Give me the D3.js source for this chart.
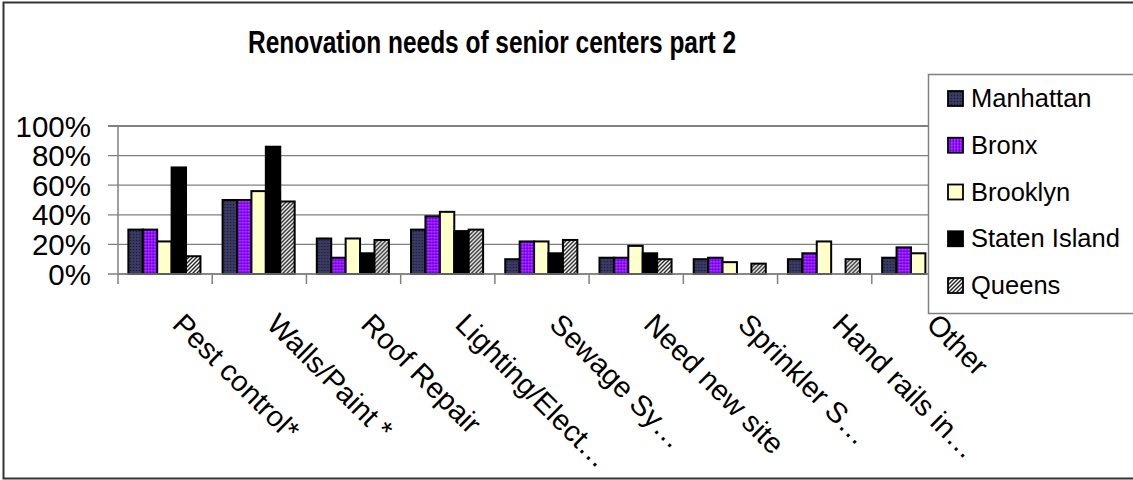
<!DOCTYPE html>
<html>
<head>
<meta charset="utf-8">
<script src="https://cdn.jsdelivr.net/npm/d3@7"></script>
<style>
  html, body { margin: 0; padding: 0; background: #fff; }
  svg { display: block; font-family: Arial, "Liberation Sans", sans-serif; }
</style>
</head>
<body>
<svg id="chart" width="1133" height="480"></svg>
<script>
// Renovation needs by borough (share of senior centers)
const categories = ["Pest control*", "Walls/Paint *", "Roof Repair", "Lighting/Elect…",
  "Sewage Sy…", "Need new site", "Sprinkler S…", "Hand rails in…", "Other"];
const seriesNames = ["Manhattan", "Bronx", "Brooklyn", "Staten Island", "Queens"];
const manhattan = [0.30, 0.50, 0.24, 0.30, 0.10, 0.11, 0.10, 0.10, 0.11];
const bronx     = [0.30, 0.50, 0.11, 0.39, 0.22, 0.11, 0.11, 0.14, 0.18];
const brooklyn  = [0.22, 0.56, 0.24, 0.42, 0.22, 0.19, 0.08, 0.22, 0.14];
const staten    = [0.72, 0.86, 0.14, 0.29, 0.14, 0.14, 0.00, 0.00, 0.00];
const queens    = [0.12, 0.49, 0.23, 0.30, 0.23, 0.10, 0.07, 0.10, 0.00];
const yTicks = [0, 0.2, 0.4, 0.6, 0.8, 1.0];
const title = "Renovation needs of senior centers part 2";

const seriesValues = [manhattan, bronx, brooklyn, staten, queens];
const fills = ["url(#pManhattan)", "url(#pBronx)", "#ffffcc", "#000000", "url(#pQueens)"];

const svg = d3.select("#chart");

// fill patterns
const defs = svg.append("defs");
const pm = defs.append("pattern").attr("id", "pManhattan").attr("patternUnits", "userSpaceOnUse")
  .attr("width", 3).attr("height", 3);
pm.append("rect").attr("width", 3).attr("height", 3).attr("fill", "#36365e");
pm.append("rect").attr("x", 0).attr("y", 0).attr("width", 1).attr("height", 1).attr("fill", "#1a1a33");
pm.append("rect").attr("x", 1.5).attr("y", 1.5).attr("width", 1).attr("height", 1).attr("fill", "#4a4a78");

const pb = defs.append("pattern").attr("id", "pBronx").attr("patternUnits", "userSpaceOnUse")
  .attr("width", 3).attr("height", 3);
pb.append("rect").attr("width", 3).attr("height", 3).attr("fill", "#8a10ff");
pb.append("rect").attr("x", 0).attr("y", 0).attr("width", 1.5).attr("height", 1.5).attr("fill", "#cc33ff");
pb.append("rect").attr("x", 1.5).attr("y", 1.5).attr("width", 1.5).attr("height", 1.5).attr("fill", "#5a00e0");

const pq = defs.append("pattern").attr("id", "pQueens").attr("patternUnits", "userSpaceOnUse")
  .attr("width", 4).attr("height", 4);
pq.append("rect").attr("width", 4).attr("height", 4).attr("fill", "#ffffff");
pq.append("path").attr("d", "M-1,5 L5,-1 M-1,1 L1,-1 M3,5 L5,3")
  .attr("stroke", "#222").attr("stroke-width", 1.4);

// outer frame
svg.append("rect").attr("x", 3.5).attr("y", 2.5).attr("width", 1140).attr("height", 476)
  .attr("fill", "#fff").attr("stroke", "#333").attr("stroke-width", 2);

// title
svg.append("text").attr("x", 492).attr("y", 53).attr("text-anchor", "middle")
  .attr("font-size", 32).attr("font-weight", "bold")
  .attr("textLength", 488).attr("lengthAdjust", "spacingAndGlyphs")
  .text(title);

// scales
const plotLeft = 118, plotRight = 966, plotTop = 126, plotBottom = 274;
const x0 = d3.scaleBand().domain(categories).range([plotLeft, plotRight]).padding(0);
const step = x0.step();
const x1 = d3.scaleBand().domain(seriesNames).range([step * 0.11, step * 0.875]).padding(0);
const y = d3.scaleLinear().domain([0, 1]).range([plotBottom, plotTop]);

// gridlines
svg.append("g").selectAll("line").data(yTicks).join("line")
  .attr("x1", plotLeft - 10).attr("x2", plotRight)
  .attr("y1", d => y(d)).attr("y2", d => y(d))
  .attr("stroke", "#808080").attr("stroke-width", d => d === 1 ? 2 : 1.3);

// y tick labels
svg.append("g").selectAll("text").data(yTicks).join("text")
  .attr("x", 91).attr("y", d => y(d)).attr("dy", "0.36em")
  .attr("text-anchor", "end").attr("font-size", 29.5)
  .text(d3.format(".0%"));

// axes lines and category ticks
svg.append("line").attr("x1", plotLeft).attr("x2", plotLeft).attr("y1", plotTop).attr("y2", plotBottom + 10)
  .attr("stroke", "#808080").attr("stroke-width", 1.5);
svg.append("g").selectAll("line").data(categories.slice(1)).join("line")
  .attr("x1", d => x0(d)).attr("x2", d => x0(d))
  .attr("y1", plotBottom).attr("y2", plotBottom + 10)
  .attr("stroke", "#808080").attr("stroke-width", 1.5);

// bars
const rows = categories.map((c, i) => ({
  cat: c,
  vals: seriesNames.map((s, j) => ({ s, j, v: seriesValues[j][i] }))
}));
const groups = svg.append("g").selectAll("g").data(rows).join("g")
  .attr("transform", d => `translate(${x0(d.cat)},0)`);
groups.selectAll("rect").data(d => d.vals.filter(e => e.v > 0)).join("rect")
  .attr("x", d => x1(d.s)).attr("width", x1.bandwidth())
  .attr("y", d => y(d.v)).attr("height", d => y(0) - y(d.v))
  .attr("fill", d => fills[d.j]).attr("stroke", "#000").attr("stroke-width", 2);

// base line drawn over bar bottoms
svg.append("line").attr("x1", plotLeft).attr("x2", plotRight).attr("y1", plotBottom).attr("y2", plotBottom)
  .attr("stroke", "#808080").attr("stroke-width", 1.5);

// category labels, rotated 45°
svg.append("g").selectAll("text").data(categories).join("text")
  .attr("transform", d => `translate(${x0(d) + step / 2 + 6},326) rotate(45)`)
  .attr("font-size", 29)
  .text(d => d);

// legend
const lg = svg.append("g");
lg.append("rect").attr("x", 928.5).attr("y", 74.5).attr("width", 220).attr("height", 239)
  .attr("fill", "#fff").attr("stroke", "#808080").attr("stroke-width", 1.5);
const legY = d3.scalePoint().domain(seriesNames).range([98, 285]);
const items = lg.selectAll("g").data(seriesNames).join("g")
  .attr("transform", d => `translate(0,${legY(d)})`);
items.append("rect").attr("x", 948).attr("y", -7).attr("width", 15).attr("height", 15)
  .attr("fill", (d, i) => fills[i]).attr("stroke", "#000").attr("stroke-width", 1.8);
items.append("text").attr("x", 971).attr("y", 0).attr("dy", "0.36em")
  .attr("font-size", 25.5).text(d => d);
</script>
</body>
</html>
